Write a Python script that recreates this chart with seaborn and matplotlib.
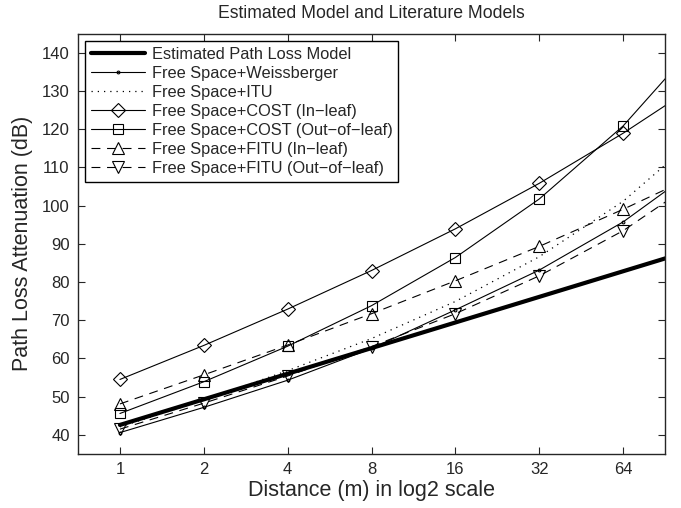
import numpy as np
import matplotlib
matplotlib.use("Agg")
import matplotlib.pyplot as plt
import seaborn as sns

# distanze (m); il punto a 128 serve solo a prolungare le linee fino al bordo
distance = [1, 2, 4, 8, 16, 32, 64, 128]

estimated = [42.6, 49.3, 56.0, 62.7, 69.4, 76.1, 82.8, 89.5]
weissberger = [40.6, 47.2, 54.3, 62.6, 72.7, 83.1, 95.7, 111.6]
itu = [42.1, 49.1, 56.8, 65.2, 74.9, 86.6, 101.1, 120.0]
cost_in = [54.5, 63.4, 72.9, 83.0, 93.9, 105.8, 118.9, 133.3]
cost_out = [45.6, 53.9, 63.2, 73.8, 86.4, 101.7, 120.8, 145.4]
fitu_in = [48.1, 55.7, 63.5, 71.7, 80.3, 89.3, 99.0, 109.3]
fitu_out = [41.5, 48.3, 55.4, 63.1, 71.7, 81.6, 93.4, 108.3]

xticks = [1, 2, 4, 8, 16, 32, 64]
yticks = [40, 50, 60, 70, 80, 90, 100, 110, 120, 130, 140]

sns.set_style("ticks")
plt.rcParams['font.family'] = ['Liberation Sans', 'DejaVu Sans']

fig = plt.figure(figsize=(6.81, 5.08), dpi=100)
ax = fig.add_axes([78 / 681, 1 - 454 / 508, (665 - 78) / 681, (454 - 33.5) / 508])
ax.set_xscale('log', base=2)

serie = [
    ("Estimated Path Loss Model", estimated, dict(lw=3.0, ls='-')),
    ("Free Space+Weissberger", weissberger, dict(lw=0.8, ls='-', marker='.', ms=4)),
    ("Free Space+ITU", itu, dict(lw=0.9, ls=(0, (1, 4)))),
    ("Free Space+COST (In\u2212leaf)", cost_in, dict(lw=0.8, ls='-', marker='D', ms=7)),
    ("Free Space+COST (Out\u2212of\u2212leaf)", cost_out, dict(lw=0.8, ls='-', marker='s', ms=7)),
    ("Free Space+FITU (In\u2212leaf)", fitu_in, dict(lw=0.8, ls=(0, (8, 6)), marker='^', ms=8.5)),
    ("Free Space+FITU (Out\u2212of\u2212leaf)", fitu_out, dict(lw=0.8, ls=(0, (8, 6)), marker='v', ms=8.5)),
]

for nome, valori, stile in serie:
    sns.lineplot(x=distance, y=valori, ax=ax, color='black', label=nome,
                 mfc='none', mec='black', mew=0.8, **stile)

ax.set_xlim(2 ** -0.5, 2 ** 6.5)
ax.set_ylim(35, 145)
ax.set_xticks(xticks)
ax.set_xticklabels([str(t) for t in xticks])
ax.xaxis.set_minor_locator(matplotlib.ticker.NullLocator())
ax.set_yticks(yticks)
ax.tick_params(direction='in', top=True, right=True, labelsize=12, length=5, width=0.8, pad=6)
for s in ax.spines.values():
    s.set_linewidth(1.0)
    s.set_visible(True)

ax.set_xlabel("Distance (m) in log2 scale", fontsize=15.5, labelpad=2)
ax.set_ylabel("Path Loss Attenuation (dB)", fontsize=15.5, labelpad=6)
ax.set_title("Estimated Model and Literature Models", fontsize=12.7, pad=11)

leg = ax.legend(loc='upper left', numpoints=1, handlelength=3.3, fontsize=11.8,
                frameon=True, fancybox=False, framealpha=1, borderaxespad=0.45,
                labelspacing=0.25, handletextpad=0.4, borderpad=0.35)
leg.get_frame().set_edgecolor('black')
leg.get_frame().set_linewidth(1.0)

fig.savefig("out.png", dpi=100)
